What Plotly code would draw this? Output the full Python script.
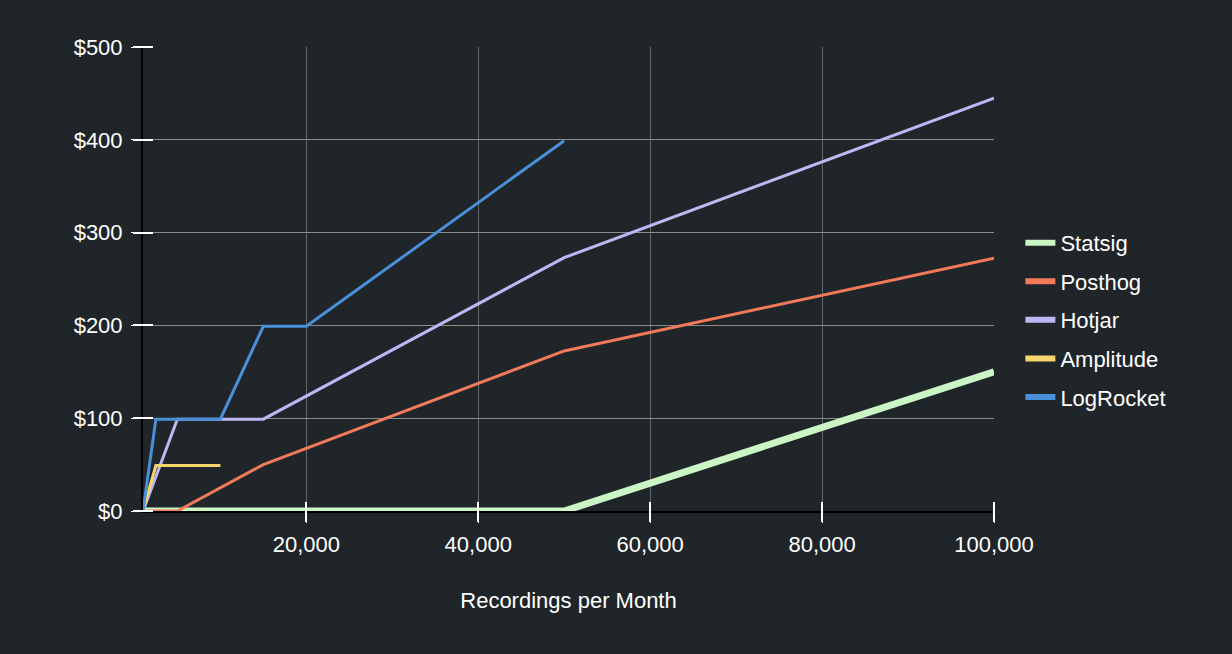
import plotly.graph_objects as go

# ---- data ----
statsig_x = [1000, 50000, 100000]
statsig_y = [0, 0, 150]
posthog_x = [1000, 5000, 15000, 50000, 100000]
posthog_y = [0, 0, 50, 172.5, 272.5]
hotjar_x = [1000, 5000, 15000, 50000, 100000]
hotjar_y = [0, 99, 99, 273, 445]
amplitude_x = [1000, 2500, 10000]
amplitude_y = [0, 49, 49]
logrocket_x = [1000, 2500, 10000, 15000, 20000, 50000]
logrocket_y = [0, 99, 99, 199, 199, 399]

x_ticks = [20000, 40000, 60000, 80000, 100000]
x_tick_labels = ["20,000", "40,000", "60,000", "80,000", "100,000"]
y_ticks = [0, 100, 200, 300, 400, 500]
y_tick_labels = ["$0", "$100", "$200", "$300", "$400", "$500"]

series = [
    ("Statsig", statsig_x, statsig_y, "#ccf5c5", 7),
    ("Posthog", posthog_x, posthog_y, "#f07a5a", 3),
    ("Hotjar", hotjar_x, hotjar_y, "#bdb7f5", 3),
    ("Amplitude", amplitude_x, amplitude_y, "#f6d56e", 3),
    ("LogRocket", logrocket_x, logrocket_y, "#4a8fd9", 3),
]

BG = "#1f2528"
FONT = "Liberation Sans, Arial, sans-serif"
X_RANGE = [1000, 100000]
Y_RANGE = [0, 500]

W, H = 1232, 654
M_L, M_R, M_T, M_B = 143, 238, 46.5, 142.5
PLOT_W = W - M_L - M_R
PLOT_H = H - M_T - M_B
TICK_HALF = 10  # tick marks cross the axis lines, 10px on each side

fig = go.Figure()
for name, xs, ys, color, w in series:
    fig.add_trace(go.Scatter(
        x=xs, y=ys, mode="lines", name=name, legendgroup=name,
        showlegend=False, line=dict(color=color, width=w),
    ))
# legend entries with uniform thick swatches; they live on the overlay axes
# that draw the crossing tick marks
for name, xs, ys, color, w in series:
    fig.add_trace(go.Scatter(
        x=[None], y=[None], mode="lines", name=name, legendgroup=name,
        showlegend=True, line=dict(color=color, width=6),
        xaxis="x2", yaxis="y2",
    ))

fig.update_layout(
    width=W, height=H,
    paper_bgcolor=BG, plot_bgcolor=BG,
    margin=dict(l=M_L, r=M_R, t=M_T, b=M_B, autoexpand=False),
    font=dict(family=FONT, size=22, color="#ffffff"),
    showlegend=True,
    legend=dict(
        x=1.031, xanchor="left", y=0.412, yanchor="middle",
        bgcolor="rgba(0,0,0,0)", font=dict(size=22, color="#ffffff"),
        tracegroupgap=7, itemwidth=30,
    ),
    xaxis=dict(
        range=X_RANGE, tickvals=x_ticks, ticktext=x_tick_labels,
        showgrid=True, gridcolor="#64686b", gridwidth=1,
        zeroline=False, showline=True, linecolor="#000000", linewidth=2,
        ticks="outside", ticklen=10, tickcolor="#ffffff", tickwidth=1,
        ticklabelstandoff=3,
        title=dict(text="Recordings per Month", standoff=36,
                   font=dict(size=22, color="#ffffff")),
        tickfont=dict(size=22, color="#ffffff"),
    ),
    yaxis=dict(
        range=Y_RANGE, tickvals=y_ticks, ticktext=y_tick_labels,
        showgrid=True, gridcolor="#8c8c8c", gridwidth=1,
        zeroline=False, showline=True, linecolor="#000000", linewidth=2,
        ticks="outside", ticklen=10, tickcolor="#ffffff", tickwidth=1,
        ticklabelstandoff=4,
        tickfont=dict(size=22, color="#ffffff"),
    ),
    xaxis2=dict(
        overlaying="x", anchor="free", position=TICK_HALF / PLOT_H,
        side="bottom", range=X_RANGE,
        tickvals=x_ticks, ticks="outside", ticklen=2 * TICK_HALF,
        tickcolor="#ffffff", tickwidth=2,
        showticklabels=False, showgrid=False, zeroline=False, showline=False,
    ),
    yaxis2=dict(
        overlaying="y", anchor="free", position=TICK_HALF / PLOT_W,
        side="left", range=Y_RANGE,
        tickvals=y_ticks, ticks="outside", ticklen=2 * TICK_HALF,
        tickcolor="#ffffff", tickwidth=2,
        showticklabels=False, showgrid=False, zeroline=False, showline=False,
    ),
)

post = (
    "document.body.style.margin='0';"
    "document.body.style.padding='0';"
    "document.body.style.background='%s';"
    "document.documentElement.style.background='%s';" % (BG, BG)
)
fig.write_html("out.html", post_script=post,
               config={"displayModeBar": False})
